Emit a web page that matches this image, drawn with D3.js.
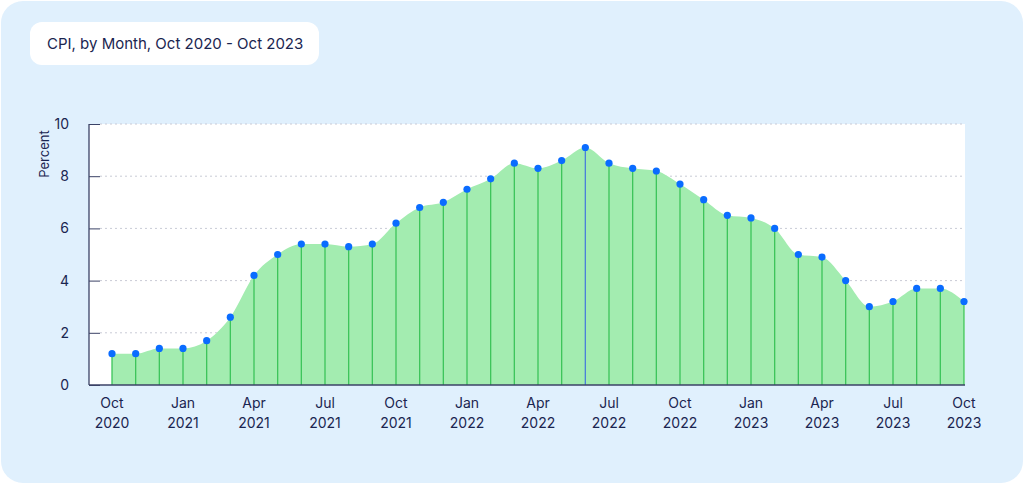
<!DOCTYPE html><html><head><meta charset="utf-8">
<script src="https://cdn.jsdelivr.net/npm/d3@7"></script>
<style>body{margin:0;background:#fff;font-family:Inter,"Noto Sans",sans-serif}</style></head><body>
<svg id="c" width="1024" height="484"></svg>
<script>
const months=["Oct 2020","Nov 2020","Dec 2020","Jan 2021","Feb 2021","Mar 2021","Apr 2021","May 2021","Jun 2021","Jul 2021","Aug 2021","Sep 2021","Oct 2021","Nov 2021","Dec 2021","Jan 2022","Feb 2022","Mar 2022","Apr 2022","May 2022","Jun 2022","Jul 2022","Aug 2022","Sep 2022","Oct 2022","Nov 2022","Dec 2022","Jan 2023","Feb 2023","Mar 2023","Apr 2023","May 2023","Jun 2023","Jul 2023","Aug 2023","Sep 2023","Oct 2023"];
const cpi=[1.2,1.2,1.4,1.4,1.7,2.6,4.2,5.0,5.4,5.4,5.3,5.4,6.2,6.8,7.0,7.5,7.9,8.5,8.3,8.6,9.1,8.5,8.3,8.2,7.7,7.1,6.5,6.4,6.0,5.0,4.9,4.0,3.0,3.2,3.7,3.7,3.2];
const yTicks=[0,2,4,6,8,10];
const highlight="Jun 2022";
const title="CPI, by Month, Oct 2020 - Oct 2023";
const svg=d3.select("#c");
svg.append("rect").attr("x",1).attr("y",1).attr("width",1022).attr("height",482).attr("rx",22).attr("fill","#e0f0fd");
svg.append("rect").attr("x",30).attr("y",22).attr("width",289).attr("height",43).attr("rx",12).attr("fill","#fff");
svg.append("text").attr("x",47).attr("y",49).attr("font-size",15).attr("fill","#1a2550").text(title);
const x=d3.scaleLinear().domain([0,months.length-1]).range([112,964]);
const y=d3.scaleLinear().domain([0,10]).range([385,124]);
svg.append("rect").attr("x",89).attr("y",124).attr("width",876).attr("height",261).attr("fill","#fff");
svg.append("g").selectAll("line").data(yTicks.slice(1)).join("line").attr("x1",100).attr("x2",965).attr("y1",d=>y(d)).attr("y2",d=>y(d)).attr("stroke","#c9cbd6").attr("stroke-dasharray","2,3");
const area=d3.area().x((d,i)=>x(i)).y0(y(0)).y1(d=>y(d)).curve(d3.curveMonotoneX);
svg.append("path").datum(cpi).attr("d",area).attr("fill","#a3ecb0");
svg.append("g").selectAll("line").data(cpi).join("line").attr("x1",(d,i)=>x(i)).attr("x2",(d,i)=>x(i)).attr("y1",y(0)).attr("y2",d=>y(d)).attr("stroke",(d,i)=>months[i]===highlight?"#4a7fd9":"#3cc45a").attr("stroke-width",1.3);
svg.append("g").selectAll("circle").data(cpi).join("circle").attr("cx",(d,i)=>x(i)).attr("cy",d=>y(d)).attr("r",3.6).attr("fill","#0a6cff");
const ya=svg.append("g").attr("transform","translate(89,0)").call(d3.axisLeft(y).tickValues(yTicks).tickSize(-11).tickPadding(20));
ya.select(".domain").attr("stroke","#3b4266").attr("stroke-width",1.3).attr("d","M0,124V385");
ya.selectAll(".tick line").attr("stroke","#3b4266");
ya.selectAll("text").attr("font-size",14).attr("fill","#1a2550").attr("font-family","Inter,sans-serif");
svg.append("line").attr("x1",89).attr("x2",965).attr("y1",385).attr("y2",385).attr("stroke","#3b4266").attr("stroke-width",1.3);
svg.append("text").attr("transform","translate(49,154) rotate(-90)").attr("text-anchor","middle").attr("font-size",13).attr("fill","#1a2550").text("Percent");
const labs=svg.append("g");
months.forEach((m,i)=>{if(i%3)return;const [mo,yr]=m.split(" ");
 const t=labs.append("text").attr("text-anchor","middle").attr("font-size",14).attr("fill","#1a2550");
 t.append("tspan").attr("x",x(i)).attr("y",408).text(mo);
 t.append("tspan").attr("x",x(i)).attr("y",428).text(yr);});
</script></body></html>
